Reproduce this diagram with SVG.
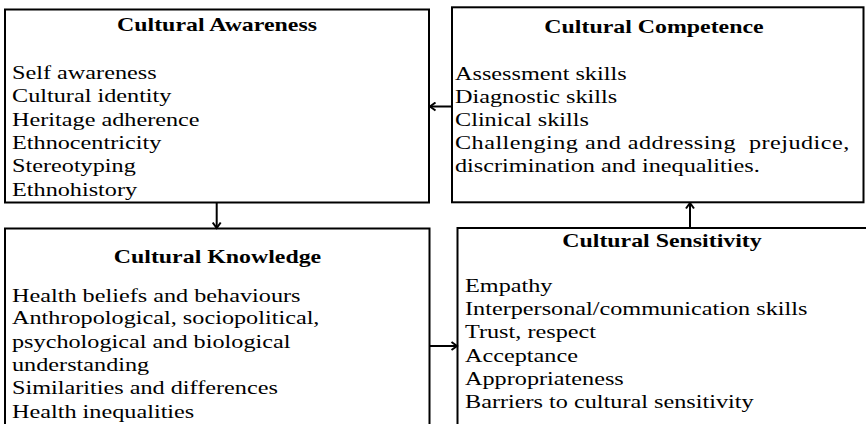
<svg xmlns="http://www.w3.org/2000/svg" width="866" height="424" viewBox="0 0 866 424">
<style>
.box{fill:#fff;stroke:#000;stroke-width:2}
.t{font-family:"Liberation Serif","Times New Roman",serif;font-size:18.5px;font-weight:bold;fill:#000;text-anchor:middle}
.b{font-family:"Liberation Serif","Times New Roman",serif;font-size:18.5px;fill:#000}
.c{stroke:#000;stroke-width:2;fill:none}
</style>
<defs>
<marker id="ah" viewBox="0 0 10 10" refX="8.5" refY="5" markerWidth="10" markerHeight="10" markerUnits="userSpaceOnUse" orient="auto">
<path d="M3,1 L8.5,5 L3,9" fill="none" stroke="#000" stroke-width="2"/>
</marker>
</defs>
<rect width="866" height="424" fill="#fff"/>
<g id="awareness">
<rect class="box" x="5" y="9.5" width="424" height="193"/>
<g transform="translate(217 0) scale(1.29 1)"><text class="t" x="0" y="31.5">Cultural Awareness</text></g>
<g transform="translate(12 0) scale(1.31 1)">
<text class="b" x="0" y="79">Self awareness</text>
<text class="b" x="0" y="102.3">Cultural identity</text>
<text class="b" x="0" y="125.7">Heritage adherence</text>
<text class="b" x="0" y="149">Ethnocentricity</text>
<text class="b" x="0" y="172.3">Stereotyping</text>
<text class="b" x="0" y="195.7">Ethnohistory</text>
</g>
</g>
<g id="competence">
<rect class="box" x="452" y="7.3" width="411.5" height="195"/>
<g transform="translate(654 0) scale(1.29 1)"><text class="t" x="0" y="32.7">Cultural Competence</text></g>
<g transform="translate(455 0) scale(1.31 1)">
<text class="b" x="0" y="80">Assessment skills</text>
<text class="b" x="0" y="102.7">Diagnostic skills</text>
<text class="b" x="0" y="125.7">Clinical skills</text>
<text class="b" x="0" y="149" xml:space="preserve" textLength="301" lengthAdjust="spacing">Challenging and addressing  prejudice,</text>
<text class="b" x="0" y="172.3">discrimination and inequalities.</text>
</g>
</g>
<g id="knowledge">
<rect class="box" x="5" y="228.5" width="424.5" height="210"/>
<g transform="translate(217.5 0) scale(1.29 1)"><text class="t" x="0" y="263.3">Cultural Knowledge</text></g>
<g transform="translate(12 0) scale(1.31 1)">
<text class="b" x="0" y="301.7">Health beliefs and behaviours</text>
<text class="b" x="0" y="324.3">Anthropological, sociopolitical,</text>
<text class="b" x="0" y="347.7">psychological and biological</text>
<text class="b" x="0" y="371">understanding</text>
<text class="b" x="0" y="394.3">Similarities and differences</text>
<text class="b" x="0" y="417.7">Health inequalities</text>
</g>
</g>
<g id="sensitivity">
<rect class="box" x="457.5" y="228" width="420" height="210"/>
<g transform="translate(662 0) scale(1.29 1)"><text class="t" x="0" y="246.7">Cultural Sensitivity</text></g>
<g transform="translate(465 0) scale(1.31 1)">
<text class="b" x="0" y="291.7">Empathy</text>
<text class="b" x="0" y="315">Interpersonal/communication skills</text>
<text class="b" x="0" y="338.3">Trust, respect</text>
<text class="b" x="0" y="361.7">Acceptance</text>
<text class="b" x="0" y="385">Appropriateness</text>
<text class="b" x="0" y="408.3">Barriers to cultural sensitivity</text>
</g>
</g>
<g id="connectors">
<line class="c" x1="452" y1="106.5" x2="430" y2="106.5" marker-end="url(#ah)"/>
<line class="c" x1="216.7" y1="203" x2="216.7" y2="228" marker-end="url(#ah)"/>
<line class="c" x1="430" y1="346" x2="457" y2="346" marker-end="url(#ah)"/>
<line class="c" x1="690" y1="228" x2="690" y2="203" marker-end="url(#ah)"/>
</g>
</svg>
